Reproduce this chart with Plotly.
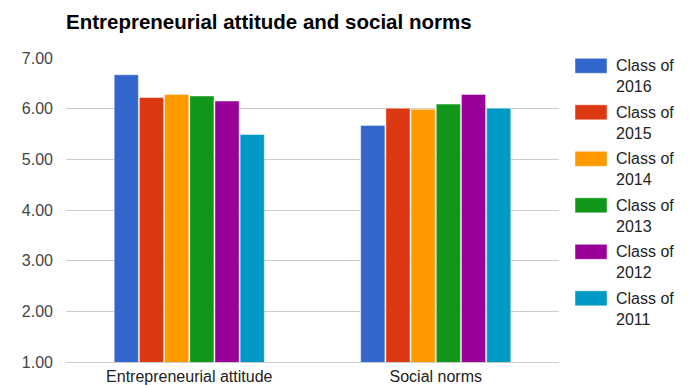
import plotly.graph_objects as go

# Survey categories and scores per graduating class
categories = ["Entrepreneurial attitude", "Social norms"]
class_names = ["Class of 2016", "Class of 2015", "Class of 2014",
               "Class of 2013", "Class of 2012", "Class of 2011"]
class_2016 = [6.67, 5.67]
class_2015 = [6.22, 6.01]
class_2014 = [6.28, 5.99]
class_2013 = [6.25, 6.09]
class_2012 = [6.15, 6.28]
class_2011 = [5.49, 6.01]
series_values = [class_2016, class_2015, class_2014, class_2013, class_2012, class_2011]
colors = ["#3366cc", "#dc3912", "#ff9900", "#109618", "#990099", "#0099c6"]
y_ticks = [1, 2, 3, 4, 5, 6, 7]

FONT = "Liberation Sans, Arial, sans-serif"
W, H = 689, 388
ML, MR, MT, MB = 66, 130, 58, 26
PW, PH = W - ML - MR, H - MT - MB

fig = go.Figure()
for name, vals, col in zip(class_names, series_values, colors):
    fig.add_trace(go.Bar(
        x=categories, y=vals, name=name,
        marker=dict(color=col, line=dict(color="rgba(255,255,255,0.45)", width=1)),
        showlegend=False,
    ))

# Legend drawn as colour boxes with two-line labels
def px_x(px):
    return (px - ML) / PW

def px_y(py):
    return (H - MB - py) / PH

shapes = []
annotations = []
for i, (name, col) in enumerate(zip(class_names, colors)):
    top = 58.3 + i * 46.5
    shapes.append(dict(
        type="rect", xref="paper", yref="paper",
        x0=px_x(575), x1=px_x(607), y0=px_y(top + 15), y1=px_y(top),
        fillcolor=col, line=dict(color="rgba(255,255,255,0.45)", width=1),
    ))
    first, year = name.rsplit(" ", 1)
    annotations.append(dict(
        xref="paper", yref="paper", x=px_x(614), y=px_y(top - 3),
        xanchor="left", yanchor="top", align="left", showarrow=False,
        text=f"{first}<br>{year}",
        font=dict(family=FONT, size=16, color="#222222"),
    ))

fig.update_layout(
    width=W, height=H,
    margin=dict(l=ML, r=MR, t=MT, b=MB, pad=0, autoexpand=False),
    paper_bgcolor="white", plot_bgcolor="white",
    barmode="group", bargap=0.387, bargroupgap=0.04,
    title=dict(
        text="<b>Entrepreneurial attitude and social norms</b>",
        x=ML / W, xanchor="left", y=1 - 22 / H, yanchor="middle",
        font=dict(family=FONT, size=20.5, color="#000000"),
    ),
    font=dict(family=FONT, size=16, color="#222222"),
    shapes=shapes, annotations=annotations,
)
fig.update_yaxes(
    range=[1, 7], tickvals=y_ticks, tickformat=".2f", automargin=False,
    gridcolor="#cccccc", gridwidth=1, zeroline=False,
    tickfont=dict(family=FONT, size=16, color="#444444"),
    ticklabelstandoff=12, showline=False,
)
fig.update_xaxes(
    showline=True, linecolor="#cccccc", linewidth=1, showgrid=False,
    automargin=False,
    tickfont=dict(family=FONT, size=16, color="#222222"),
    ticks="", ticklabelstandoff=0,
)

fig.write_html("out.html")
